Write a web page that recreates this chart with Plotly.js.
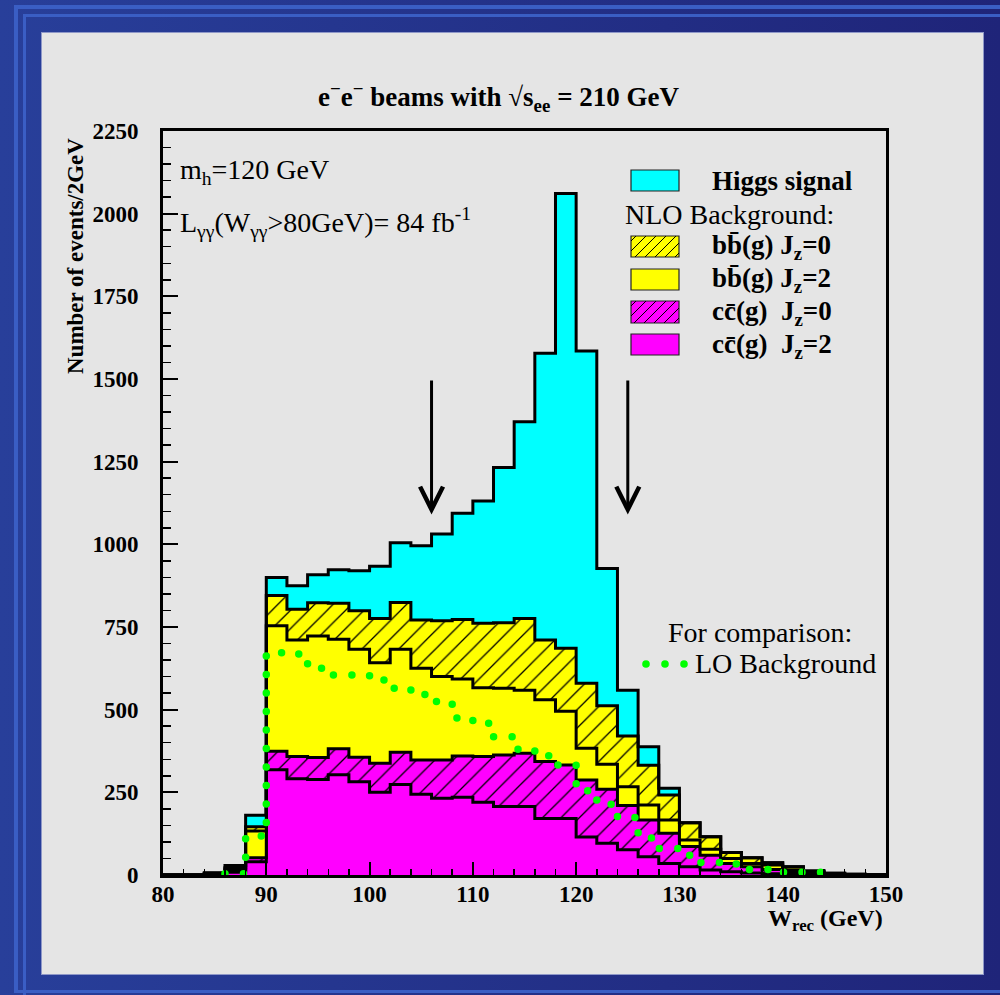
<!DOCTYPE html>
<html>
<head>
<meta charset="utf-8">
<script src="https://cdn.plot.ly/plotly-3.0.1.min.js"></script>
<style>
  html, body { margin: 0; padding: 0; }
  body {
    width: 1000px; height: 995px; position: relative; overflow: hidden;
    background: linear-gradient(to right, #283f9a, #1f2479);
  }
  #frameOuter {
    position: absolute; left: 14px; top: 5px; right: 0; bottom: 2px;
    border-left: 4px solid #3a5ec4; border-top: 4px solid #3a5ec4; border-bottom: 3px solid #3a5ec4;
  }
  #frameInner {
    position: absolute; left: 23px; top: 14px; right: 0; bottom: 0;
    border-left: 3px solid #3a5ec4; border-top: 3px solid #3a5ec4;
  }
  #panel {
    position: absolute; left: 42px; top: 33px; width: 941px; height: 941px;
    background: #e5e5e5; box-shadow: 0 0 0 1px #8f98c8;
  }
  #chart { position: absolute; left: 0; top: 0; width: 1000px; height: 995px; }
  /* round caps turn the zero-length dashes of the LO curve into dots */
  .scatterlayer .js-line { stroke-linecap: round; }
  .main-svg text { font-family: 'Liberation Serif', serif !important; }
</style>
</head>
<body>
<div id="frameOuter"></div>
<div id="frameInner"></div>
<div id="panel"></div>
<div id="chart"></div>
<script>
// Reconstructed mass W_rec, 2 GeV bins from 80 to 150 GeV (left bin edges)
const binLow = [80, 82, 84, 86, 88, 90, 92, 94, 96, 98, 100, 102, 104, 106, 108, 110, 112, 114,
                116, 118, 120, 122, 124, 126, 128, 130, 132, 134, 136, 138, 140, 142, 144, 146, 148];
const binWidth = 2;

// Events per bin for each contribution (stacked bottom to top)
const ccJz2 = [0, 0, 2, 8, 40, 318, 291, 289, 303, 282, 250, 274, 244, 232, 235, 220, 207, 207,
               171, 171, 115, 96, 76, 55, 35, 25, 15, 10, 6, 4, 2, 1, 0, 0, 0];
const ccJz0 = [0, 0, 1, 4, 12, 56, 67, 66, 79, 74, 88, 97, 104, 116, 125, 138, 156, 161,
               172, 162, 172, 163, 134, 111, 91, 61, 45, 25, 19, 13, 8, 4, 2, 1, 0];
const bbJz2 = [0, 0, 1, 6, 81, 380, 353, 368, 331, 327, 304, 312, 277, 252, 233, 208, 202, 191,
               187, 162, 96, 76, 57, 46, 40, 20, 18, 15, 10, 13, 5, 3, 1, 0, 0];
const bbJz0 = [0, 0, 1, 4, 13, 91, 93, 100, 109, 116, 134, 141, 146, 169, 180, 195, 198, 217,
               181, 191, 197, 177, 153, 120, 76, 52, 38, 18, 17, 7, 10, 4, 2, 1, 1];
const higgs = [0, 0, 2, 7, 35, 55, 71, 85, 101, 121, 158, 181, 225, 262, 321, 370, 469, 595,
               867, 1375, 1005, 415, 139, 56, 20, 0, 0, 0, 0, 0, 0, 0, 0, 0, 0];

// LO background for comparison (null: not drawn)
const loBackground = [null, null, null, 4, 118, 672, 668, 625, 605, 605, 590, 565, 546, 525, 475, 459, 418, 380,
                      361, 333, 255, 214, 174, 112, 80, 60, 38, 33, 17, 17, 8, 8, 0, null, null];

// Selection window marked by arrows (GeV) and arrow extent (events)
const cutLow = 106, cutHigh = 125;
const arrowTop = 1500, arrowTip = 1090;

const SERIF = 'Liberation Serif';
const CYAN = '#00ffff', YELLOW = '#ffff00', MAGENTA = '#ff00ff', GREEN = '#00ff00';

// Plot area geometry in pixels
const M = {l: 163, r: 114, t: 131, b: 120};
const W = 1000, H = 995;
const PW = W - M.l - M.r, PH = H - M.t - M.b;
const px = p => (p - M.l) / PW;
const py = p => (M.t + PH - p) / PH;

// Step-histogram points: one point per left edge plus the closing right edge
const edges = binLow.concat([binLow[binLow.length - 1] + binWidth]);
const stepY = v => v.concat([v[v.length - 1]]);

function layer(name, vals, color, hatched) {
  const t = {
    type: 'scatter', mode: 'lines', name: name,
    x: edges, y: stepY(vals),
    stackgroup: 'nlo',
    line: {shape: 'hv', color: '#000', width: 3},
    fillcolor: color,
    hoverinfo: 'skip'
  };
  if (hatched) {
    t.fillpattern = {shape: '/', bgcolor: color, fgcolor: '#000', size: 13, solidity: 0.1, fillmode: 'replace'};
  }
  return t;
}

const traces = [
  layer('cc(g) Jz=2', ccJz2, MAGENTA, false),
  layer('cc(g) Jz=0', ccJz0, MAGENTA, true),
  layer('bb(g) Jz=2', bbJz2, YELLOW, false),
  layer('bb(g) Jz=0', bbJz0, YELLOW, true),
  layer('Higgs signal', higgs, CYAN, false)
];

// LO curve as a dotted step line
const loX = [], loY = [];
loBackground.forEach((v, i) => { if (v !== null) { loX.push(binLow[i]); loY.push(v); } });
traces.push({
  type: 'scatter', mode: 'lines', name: 'LO Background',
  x: loX, y: loY,
  line: {shape: 'hv', color: GREEN, width: 7.5, dash: '0px,18.5px'},
  hoverinfo: 'skip'
});

// Legend swatches and hatching
const shapes = [];
function swatch(x0, y0, x1, y1, color, hatched) {
  shapes.push({type: 'rect', xref: 'paper', yref: 'paper',
    x0: px(x0), x1: px(x1), y0: py(y1), y1: py(y0),
    fillcolor: color, line: {color: '#222', width: 1.2}});
  if (hatched) {
    const s = 10;
    for (let c = x0 + y0 + s / 2; c < x1 + y1; c += s) {
      const xa = Math.max(x0, c - y1), xb = Math.min(x1, c - y0);
      if (xb - xa < 1) continue;
      shapes.push({type: 'line', xref: 'paper', yref: 'paper',
        x0: px(xa), y0: py(c - xa), x1: px(xb), y1: py(c - xb),
        line: {color: '#000', width: 1}});
    }
  }
}
swatch(631, 170, 679, 191, CYAN, false);
swatch(631, 236, 679, 257, YELLOW, true);
swatch(631, 269, 679, 290, YELLOW, false);
swatch(631, 301, 679, 323, MAGENTA, true);
swatch(631, 334, 679, 355, MAGENTA, false);
[646, 665, 684].forEach(cx => {
  shapes.push({type: 'circle', xref: 'paper', yref: 'paper',
    x0: px(cx - 3.8), x1: px(cx + 3.8), y0: py(664 + 3.8), y1: py(664 - 3.8),
    fillcolor: GREEN, line: {width: 0}});
});

function label(text, x, y, size, anchor) {
  return {text: text, xref: 'paper', yref: 'paper', x: px(x), y: py(y),
    xanchor: anchor || 'left', yanchor: 'middle', showarrow: false,
    font: {family: SERIF, size: size, color: '#000'}};
}

const NB = '\u00a0';
const annotations = [
  label('<b>e<sup>\u2212</sup>e<sup>\u2212</sup> beams with \u221As<sub>ee</sub> = 210 GeV</b>', 498, 97, 27, 'center'),
  label('m<sub>h</sub>=120 GeV', 178, 172, 28),
  label('L<sub>γγ</sub>(W<sub>γγ</sub>&gt;80GeV)= 84 fb<sup>-1</sup>', 178, 222, 28),
  label('<b>Higgs signal</b>', 710, 181, 27),
  label('NLO Background:', 623, 214, 28),
  label('<b>bb\u0304(g) J<sub>z</sub>=0</b>', 710, 247, 27),
  label('<b>bb\u0304(g) J<sub>z</sub>=2</b>', 710, 280, 27),
  label('<b>cc\u0304(g)' + NB + NB + 'J<sub>z</sub>=0</b>', 710, 313, 27),
  label('<b>cc\u0304(g)' + NB + NB + 'J<sub>z</sub>=2</b>', 710, 346, 27),
  label('For comparison:', 760, 632, 28, 'center'),
  label('LO Background', 693, 664, 28),
  label('<b>W<sub>rec</sub> (GeV)</b>', 885, 920, 24, 'right'),
  Object.assign(label('<b>Number of events/2GeV</b>', 76, 256, 23, 'center'), {textangle: -90})
];
[cutLow, cutHigh].forEach(xc => {
  annotations.push({x: xc, y: arrowTip, ax: xc, ay: arrowTop, xref: 'x', yref: 'y',
    axref: 'x', ayref: 'y', text: '', showarrow: true,
    arrowhead: 5, arrowsize: 1.5, arrowwidth: 3, arrowcolor: '#000', standoff: 0});
});

const axisCommon = {
  showline: true, linewidth: 3, linecolor: '#000', mirror: true,
  ticks: 'inside', tickcolor: '#000', tickwidth: 2,
  showgrid: false, zeroline: false,
  tickfont: {family: SERIF, size: 23, color: '#000', weight: 'bold'}
};

const layout = {
  width: W, height: H,
  margin: {l: M.l, r: M.r, t: M.t, b: M.b, pad: 0},
  paper_bgcolor: 'rgba(0,0,0,0)',
  plot_bgcolor: '#e5e5e5',
  showlegend: false,
  font: {family: SERIF, color: '#000'},
  xaxis: Object.assign({}, axisCommon, {
    range: [80, 150], tick0: 80, dtick: 10, ticklen: 13, ticklabelstandoff: -4,
    minor: {ticks: 'inside', dtick: 2, ticklen: 6, tickwidth: 1.5, tickcolor: '#000'}
  }),
  yaxis: Object.assign({}, axisCommon, {
    range: [0, 2250], tick0: 0, dtick: 250, ticklen: 15, ticklabelstandoff: 17,
    minor: {ticks: 'inside', dtick: 50, ticklen: 8, tickwidth: 1.5, tickcolor: '#000'}
  }),
  shapes: shapes,
  annotations: annotations
};

Plotly.newPlot('chart', traces, layout, {staticPlot: true, displayModeBar: false});
</script>
</body>
</html>
